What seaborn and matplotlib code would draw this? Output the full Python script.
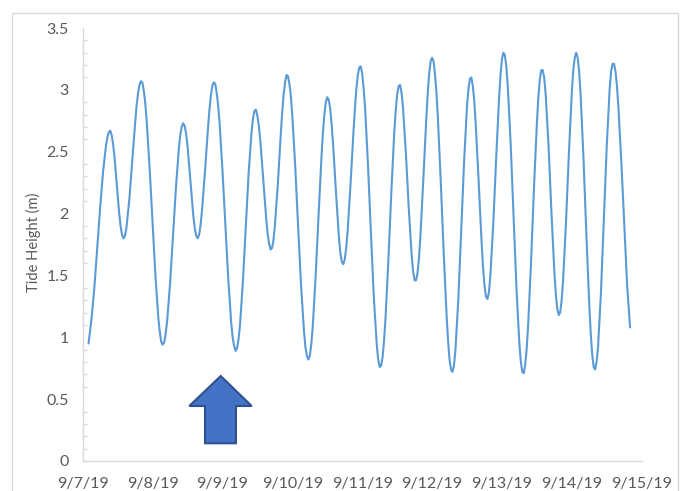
import matplotlib
matplotlib.use("Agg")
import matplotlib.pyplot as plt
from matplotlib.patches import Polygon, Rectangle
from matplotlib.ticker import MultipleLocator
import seaborn as sns
import pandas as pd

# ---- data ----
# hourly readings, starting 9/7/19 02:00
start_time = "2019-09-07 02:00"
hourly_height_m = [
    0.95, 1.14, 1.40, 1.72, 2.05, 2.34, 2.55, 2.66,            # 02-09
    2.63, 2.44, 2.15, 1.90, 1.80,                               # 10-14
    1.88, 2.11, 2.42, 2.73, 2.97, 3.07,                         # 15-20
    2.99, 2.74, 2.36, 1.92, 1.49, 1.15, 0.96,                   # 21-27
    0.96, 1.13, 1.43, 1.82, 2.20, 2.52, 2.70,                   # 28-34
    2.71, 2.55, 2.27, 1.98, 1.82,                               # 35-39
    1.83, 2.03, 2.34, 2.68, 2.95, 3.06,                         # 40-45
    2.98, 2.74, 2.35, 1.91, 1.47, 1.12, 0.93,                   # 46-52
    0.91, 1.09, 1.44, 1.89, 2.33, 2.66, 2.83,                   # 53-59
    2.79, 2.59, 2.28, 1.97, 1.76,                               # 60-64
    1.72, 1.90, 2.23, 2.63, 2.96, 3.12,                         # 65-70
    3.05, 2.79, 2.38, 1.89, 1.42, 1.05, 0.85,                   # 71-77
    0.85, 1.08, 1.49, 1.98, 2.45, 2.80, 2.94,                   # 78-84
    2.85, 2.56, 2.17, 1.81, 1.61,                               # 85-89
    1.63, 1.86, 2.24, 2.66, 3.01, 3.18,                         # 90-95
    3.13, 2.85, 2.39, 1.84, 1.32, 0.94, 0.76,                   # 96-102
    0.84, 1.15, 1.63, 2.17, 2.65, 2.96,                         # 103-108
    3.04, 2.86, 2.49, 2.04, 1.66, 1.46,                         # 109-114
    1.52, 1.82, 2.28, 2.76, 3.13, 3.26,                         # 115-120
    3.13, 2.77, 2.25, 1.68, 1.17, 0.82,                         # 121-126
    0.72, 0.89, 1.30, 1.85, 2.42, 2.87, 3.09,                   # 127-133
    3.03, 2.72, 2.26, 1.77, 1.42,                               # 134-138
    1.31, 1.49, 1.91, 2.44, 2.93, 3.25,                         # 139-144
    3.28, 3.03, 2.56, 1.98, 1.39, 0.94, 0.72,                   # 145-151
    0.78, 1.10, 1.61, 2.21, 2.73, 3.08,                         # 152-157
    3.16, 2.97, 2.55, 2.01, 1.53, 1.23,                         # 158-163
    1.20, 1.46, 1.93, 2.49, 2.98, 3.26,                         # 164-169
    3.26, 2.97, 2.45, 1.83, 1.26, 0.86,                         # 170-175
    0.74, 0.92, 1.36, 1.95, 2.55, 3.01, 3.21,                   # 176-182
    3.15, 2.86, 2.42, 1.92, 1.42, 1.08,                         # 183-188
]
# extra half-hour readings around each high and low (hours after 9/7/19 00:00)
turn_hours = [
    8.5, 9.5, 10.5, 12.5, 13.5, 14.5, 18.5, 19.5, 20.5, 21.5,
    26.5, 27.5, 28.5, 33.5, 34.5, 35.5, 38.5, 39.5, 40.5,
    43.5, 44.5, 45.5, 46.5, 51.5, 52.5, 53.5, 58.5, 59.5, 60.5,
    63.5, 64.5, 65.5, 68.5, 69.5, 70.5, 71.5, 76.5, 77.5, 78.5,
    82.5, 83.5, 84.5, 85.5, 88.5, 89.5, 90.5, 93.5, 94.5, 95.5, 96.5,
    101.5, 102.5, 103.5, 107.5, 108.5, 109.5, 113.5, 114.5, 115.5,
    118.5, 119.5, 120.5, 121.5, 125.5, 126.5, 127.5, 132.5, 133.5, 134.5,
    137.5, 138.5, 139.5, 143.5, 144.5, 145.5, 150.5, 151.5, 152.5,
    156.5, 157.5, 158.5, 162.5, 163.5, 164.5, 168.5, 169.5, 170.5,
    174.5, 175.5, 176.5, 181.5, 182.5, 183.5,
]
turn_height_m = [
    2.62, 2.67, 2.55, 2.01, 1.83, 1.82, 2.87, 3.04, 3.06, 2.89,
    1.04, 0.94, 1.03, 2.63, 2.73, 2.65, 1.88, 1.80, 1.91,
    2.83, 3.03, 3.05, 2.88, 1.00, 0.89, 0.98, 2.77, 2.84, 2.71,
    1.84, 1.71, 1.78, 2.81, 3.06, 3.11, 2.95, 0.92, 0.82, 0.94,
    2.65, 2.90, 2.92, 2.72, 1.68, 1.59, 1.72, 2.85, 3.12, 3.19, 3.01,
    0.82, 0.77, 0.97, 2.83, 3.03, 2.98, 1.53, 1.46, 1.64,
    2.97, 3.23, 3.23, 2.98, 0.97, 0.74, 0.77, 3.01, 3.10, 2.91,
    1.57, 1.33, 1.36, 3.12, 3.30, 3.19, 0.80, 0.71, 0.91,
    2.94, 3.16, 3.10, 1.35, 1.18, 1.30, 3.16, 3.30, 3.15,
    1.03, 0.76, 0.80, 3.15, 3.21, 3.03,
]
x_tick_dates = ["2019-09-07", "2019-09-08", "2019-09-09", "2019-09-10", "2019-09-11",
                "2019-09-12", "2019-09-13", "2019-09-14", "2019-09-15"]
x_tick_labels = ["9/7/19", "9/8/19", "9/9/19", "9/10/19", "9/11/19",
                 "9/12/19", "9/13/19", "9/14/19", "9/15/19"]
y_ticks = [0, 0.5, 1, 1.5, 2, 2.5, 3, 3.5]
y_tick_labels = ["0", "0.5", "1", "1.5", "2", "2.5", "3", "3.5"]
y_label = "Tide Height (m)"

day0 = pd.Timestamp(x_tick_dates[0])
hourly = pd.DataFrame({
    "time": pd.date_range(start_time, periods=len(hourly_height_m), freq="h"),
    "height": hourly_height_m,
})
turns = pd.DataFrame({
    "time": day0 + pd.to_timedelta(turn_hours, unit="h"),
    "height": turn_height_m,
})
df = pd.concat([hourly, turns]).sort_values("time").reset_index(drop=True)

# ---- style ----
sns.set_style("white")
plt.rcParams["font.family"] = ["Lato", "DejaVu Sans"]
text_color = "#595959"
axis_color = "#D9D9D9"
line_color = "#5B9BD5"

fig = plt.figure(figsize=(6.81, 4.91), dpi=100)
ax = fig.add_axes([82.7 / 681, 1 - 461 / 491, (641.7 - 82.7) / 681, (461 - 28) / 491])

sns.lineplot(data=df, x="time", y="height", ax=ax, color=line_color, linewidth=1.5,
             estimator=None, sort=True)

ax.set_xlim(pd.Timestamp(x_tick_dates[0]), pd.Timestamp(x_tick_dates[-1]))
ax.set_ylim(0, 3.5)
ax.set_xticks([pd.Timestamp(d) for d in x_tick_dates])
ax.set_xticklabels(x_tick_labels)
ax.set_yticks(y_ticks)
ax.set_yticklabels(y_tick_labels)
ax.yaxis.set_minor_locator(MultipleLocator(0.1))
ax.set_xlabel("")
ax.set_ylabel("")

for s in ["top", "right"]:
    ax.spines[s].set_visible(False)
for s in ["left", "bottom"]:
    ax.spines[s].set_color(axis_color)
    ax.spines[s].set_linewidth(1.0)

ax.tick_params(axis="x", which="major", direction="out", length=3, width=1,
               color=axis_color, labelcolor=text_color, labelsize=11.5, pad=8.5)
ax.tick_params(axis="y", which="major", direction="in", length=3, width=1,
               color=axis_color, labelcolor=text_color, labelsize=11.5, pad=10)
ax.tick_params(axis="y", which="minor", direction="in", length=3, width=1,
               color=axis_color, left=True)
ax.tick_params(axis="x", which="minor", bottom=False)

fig.text(33 / 681, 1 - 242 / 491, y_label, rotation=90, ha="center", va="center",
         color=text_color, fontsize=10.5)

# chart frame (Excel chart area border)
fig.patches.append(Rectangle((12.3 / 681, -0.05), (678 - 12.3) / 681, 1 - 13 / 491 + 0.05,
                             transform=fig.transFigure, fill=False,
                             edgecolor=axis_color, linewidth=1.0))

# block arrow annotation (axes-fraction coordinates)
arrow = Polygon([(0.2469, 0.1963), (0.3023, 0.1270), (0.2742, 0.1270), (0.2742, 0.0409),
                 (0.2188, 0.0409), (0.2188, 0.1270), (0.1907, 0.1270)],
                closed=True, transform=ax.transAxes, facecolor="#4472C4",
                edgecolor="#2F528F", linewidth=1.5, clip_on=False, zorder=5)
ax.add_patch(arrow)

fig.savefig("out.png", dpi=100, facecolor="white")
